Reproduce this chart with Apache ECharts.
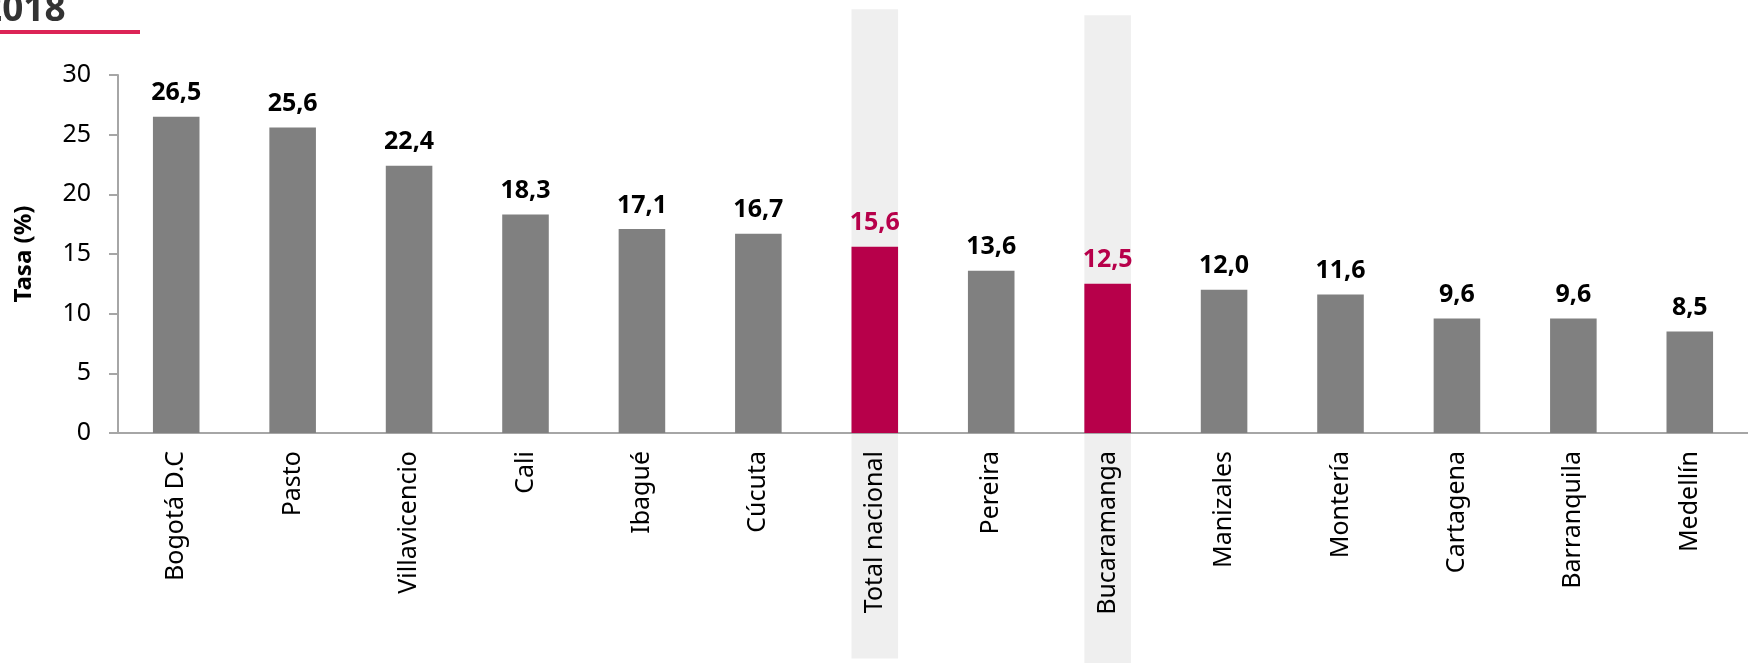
<!DOCTYPE html>
<html>
<head>
<meta charset="utf-8">
<script src="https://cdn.jsdelivr.net/npm/echarts@6/dist/echarts.min.js"></script>
<style>
  html, body { margin: 0; padding: 0; background: #fff; }
  #chart { width: 1748px; height: 663px; }
</style>
</head>
<body>
<div id="chart"></div>
<script>
// datos
const ciudades = ["Bogotá D.C", "Pasto", "Villavicencio", "Cali", "Ibagué", "Cúcuta", "Total nacional",
  "Pereira", "Bucaramanga", "Manizales", "Montería", "Cartagena", "Barranquila", "Medellín"];
const tasa = [26.5, 25.6, 22.4, 18.3, 17.1, 16.7, 15.6, 13.6, 12.5, 12.0, 11.6, 9.6, 9.6, 8.5];
const destacados = ["Total nacional", "Bucaramanga"];
// franjas grises detrás de los destacados: [categoria, desde, hasta] en unidades del eje
const franjas = [[6, -18.9, 35.5], [8, -19.4, 35.0]];
const yMin = 0, yMax = 30, yPaso = 5;
const titulo = "2018";

const GRIS = "#808080";
const ROJO = "#b7004a";
const FUENTE = "'Noto Sans', sans-serif";

const myChart = echarts.init(document.getElementById("chart"));

const barras = tasa.map((v, i) => {
  const rojo = destacados.includes(ciudades[i]);
  return {
    value: v,
    itemStyle: { color: rojo ? ROJO : GRIS },
    label: { color: rojo ? ROJO : "#000" },
  };
});

const option = {
  animation: false,
  graphic: [
    {
      type: "text",
      left: -19,
      top: -8,
      style: { text: titulo, font: "bold 37px " + FUENTE, fill: "#333" },
    },
    {
      type: "rect",
      left: 0,
      top: 30,
      shape: { width: 140, height: 4 },
      style: { fill: "#dc2456" },
    },
  ],
  grid: { left: 118, right: -5, top: 75, bottom: 230 },
  xAxis: {
    type: "category",
    data: ciudades,
    z: 2,
    axisLine: { lineStyle: { color: "#a6a6a6", width: 2 } },
    axisTick: { length: 9, lineStyle: { color: "#a6a6a6", width: 2 } },
    axisLabel: {
      rotate: 90,
      interval: 0,
      margin: 18,
      color: "#000",
      fontFamily: FUENTE,
      fontSize: 25,
    },
  },
  yAxis: {
    type: "value",
    min: yMin,
    max: yMax,
    interval: yPaso,
    name: "Tasa (%)",
    nameLocation: "middle",
    nameRotate: 90,
    nameGap: 82,
    nameTextStyle: { fontFamily: FUENTE, fontSize: 24, fontWeight: "bold", color: "#000" },
    splitLine: { show: false },
    axisLine: { show: true, lineStyle: { color: "#a6a6a6", width: 2 } },
    axisTick: { show: true, length: 9, lineStyle: { color: "#a6a6a6", width: 2 } },
    axisLabel: { margin: 27, color: "#000", fontFamily: FUENTE, fontSize: 25 },
  },
  series: [
    {
      type: "custom",
      z: 1,
      clip: false,
      silent: true,
      data: franjas,
      renderItem: (params, api) => {
        const arriba = api.coord([api.value(0), api.value(2)]);
        const abajo = api.coord([api.value(0), api.value(1)]);
        const w = api.size([1, 0])[0] * 0.4;
        return {
          type: "rect",
          shape: { x: arriba[0] - w / 2, y: arriba[1], width: w, height: abajo[1] - arriba[1] },
          style: { fill: "#efefef" },
        };
      },
    },
    {
      type: "bar",
      z: 3,
      barWidth: "40%",
      data: barras,
      label: {
        show: true,
        position: "top",
        distance: 11,
        fontFamily: FUENTE,
        fontSize: 25,
        fontWeight: "bold",
        formatter: (p) => p.value.toFixed(1).replace(".", ","),
      },
    },
  ],
};
myChart.setOption(option);
</script>
</body>
</html>
